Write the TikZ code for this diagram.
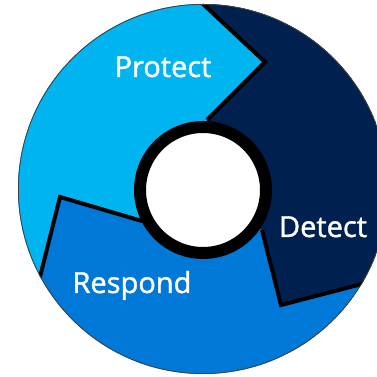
\documentclass[tikz,border=0pt]{standalone}
\usepackage{fontspec}
\newfontfamily\lblfont{Open Sans}[BoldFont={Open Sans},BoldFeatures={FakeBold=1.3}]
\usetikzlibrary{calc}
\definecolor{protectblue}{HTML}{00B4EF}
\definecolor{detectblue}{HTML}{002050}
\definecolor{respondblue}{HTML}{0078D7}
\tikzset{
  cut/.style={line width=4pt,line join=miter,black},
  hubring/.style={line width=12pt,draw=black,fill=white},
  lbl/.style={text=white,anchor=base,inner sep=0pt,
              font=\lblfont\bfseries\fontsize{29}{34}\selectfont},
}

\begin{document}
\begin{tikzpicture}[x=1pt,y=1pt]
\useasboundingbox (0,0) rectangle (377,377);
\clip (0,0) rectangle (377,377);

\coordinate (o) at (203,188);
\coordinate (hub) at (203,187);
% chevron corners: inner end, tip, outer end
\coordinate (pdin) at (207,257);
\coordinate (pdtip) at (265,315);
\coordinate (pdout) at ($(pdtip)!1.2!(203,373)$);
\coordinate (drin) at (262,147);
\coordinate (drtip) at (281,72);
\coordinate (drout) at ($(drtip)!1.3!(358,92)$);
\coordinate (rpin) at (142,156);
\coordinate (rptip) at (60,180);
\coordinate (rpout) at ($(rptip)!1.3!(40,100)$);

\begin{scope}
  \clip (o) circle[radius=185];
  \fill[respondblue] (o) circle[radius=185];
  \fill[protectblue] (hub) -- (rpin) -- (rptip) -- (rpout) -- (-20,60)
        -- (-20,400) -- (pdout) -- (pdtip) -- (pdin) -- cycle;
  \fill[detectblue] (hub) -- (pdin) -- (pdtip) -- (pdout) -- (420,400)
        -- (drout) -- (drtip) -- (drin) -- cycle;
  \draw[cut] (pdin) -- (pdtip) -- (pdout);
  \draw[cut] (drin) -- (drtip) -- (drout);
  \draw[cut] (rpin) -- (rptip) -- (rpout);
\end{scope}
\draw[line width=0.8pt,black!75] (o) circle[radius=184.6];
\draw[hubring] (hub) circle[radius=63];

\node[lbl] (protect) at (163,300) {Protect};
\node[lbl] (detect) at (323,140) {Detect};
\node[lbl] (respond) at (132,84) {Respond};
\end{tikzpicture}
\end{document}
